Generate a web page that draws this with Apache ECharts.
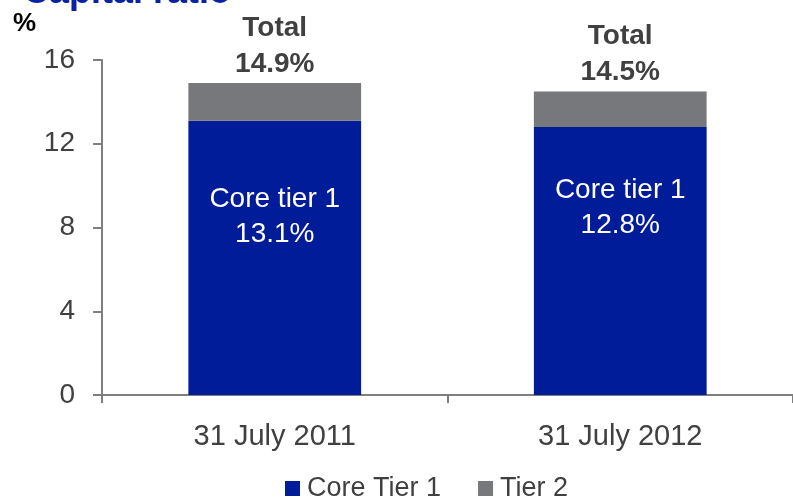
<!DOCTYPE html>
<html>
<head>
<meta charset="utf-8">
<script src="https://cdn.jsdelivr.net/npm/echarts@6/dist/echarts.min.js"></script>
<style>
  html, body { margin: 0; padding: 0; background: #fff; }
  #chart { width: 793px; height: 498px; }
</style>
</head>
<body>
<div id="chart"></div>
<script>
// categories and values
const categories = ['31 July 2011', '31 July 2012']
const coreTier1 = [13.1, 12.8]
const tier2 = [1.8, 1.7]
const totals = ['14.9%', '14.5%']
const yTicks = [0, 4, 8, 12, 16]

const font = 'Liberation Sans, Arial, sans-serif'
const chart = echarts.init(document.getElementById('chart'))

// inside label offsets differ a little per bar in the original
const insideOffsets = [[0, 56], [0, 41]]

let option = {
  animation: false,
  title: {
    text: 'Capital ratio',
    left: 18,
    top: -30,
    textStyle: { color: '#0A22A0', fontSize: 36, fontWeight: 'bold', fontFamily: font }
  },
  graphic: [{
    type: 'text',
    left: 13,
    top: 11,
    style: { text: '%', fontSize: 26, fontWeight: 'bold', fill: '#000', fontFamily: font }
  }],
  legend: {
    top: 470,
    left: 280,
    itemWidth: 15,
    itemHeight: 15,
    itemGap: 37,
    icon: 'rect',
    textStyle: { fontSize: 27, color: '#404040', fontFamily: font, padding: [0, 0, 0, 2] },
    data: ['Core Tier 1', 'Tier 2']
  },
  grid: { left: 102, top: 60, width: 694, height: 335, containLabel: false },
  xAxis: {
    type: 'category',
    data: categories,
    axisLine: { lineStyle: { color: '#7f7f7f', width: 2 } },
    axisTick: { show: true, length: 8, lineStyle: { color: '#7f7f7f', width: 2 } },
    axisLabel: { fontSize: 29, color: '#404040', fontFamily: font, margin: 27 }
  },
  yAxis: {
    type: 'value',
    min: yTicks[0],
    max: yTicks[yTicks.length - 1],
    interval: 4,
    splitLine: { show: false },
    axisLine: { show: true, lineStyle: { color: '#7f7f7f', width: 2 } },
    axisTick: { show: true, length: 9, lineStyle: { color: '#7f7f7f', width: 2 } },
    axisLabel: { fontSize: 28, color: '#404040', fontFamily: font, margin: 27 }
  },
  series: [
    {
      name: 'Core Tier 1',
      type: 'bar',
      stack: 'total',
      barWidth: '50%',
      itemStyle: { color: '#001C99' },
      data: coreTier1.map((v, i) => ({
        value: v,
        label: {
          show: true,
          position: 'insideTop',
          offset: insideOffsets[i],
          formatter: 'Core tier 1\n' + v.toFixed(1) + '%',
          color: '#fff',
          fontSize: 28,
          lineHeight: 35,
          fontFamily: font
        }
      }))
    },
    {
      name: 'Tier 2',
      type: 'bar',
      stack: 'total',
      itemStyle: { color: '#77787B' },
      data: tier2.map((v, i) => ({
        value: v,
        label: {
          show: true,
          position: 'top',
          distance: 1,
          formatter: 'Total\n' + totals[i],
          color: '#404040',
          fontSize: 28,
          fontWeight: 'bold',
          lineHeight: 36,
          fontFamily: font
        }
      }))
    }
  ]
}
chart.setOption(option)
</script>
</body>
</html>
